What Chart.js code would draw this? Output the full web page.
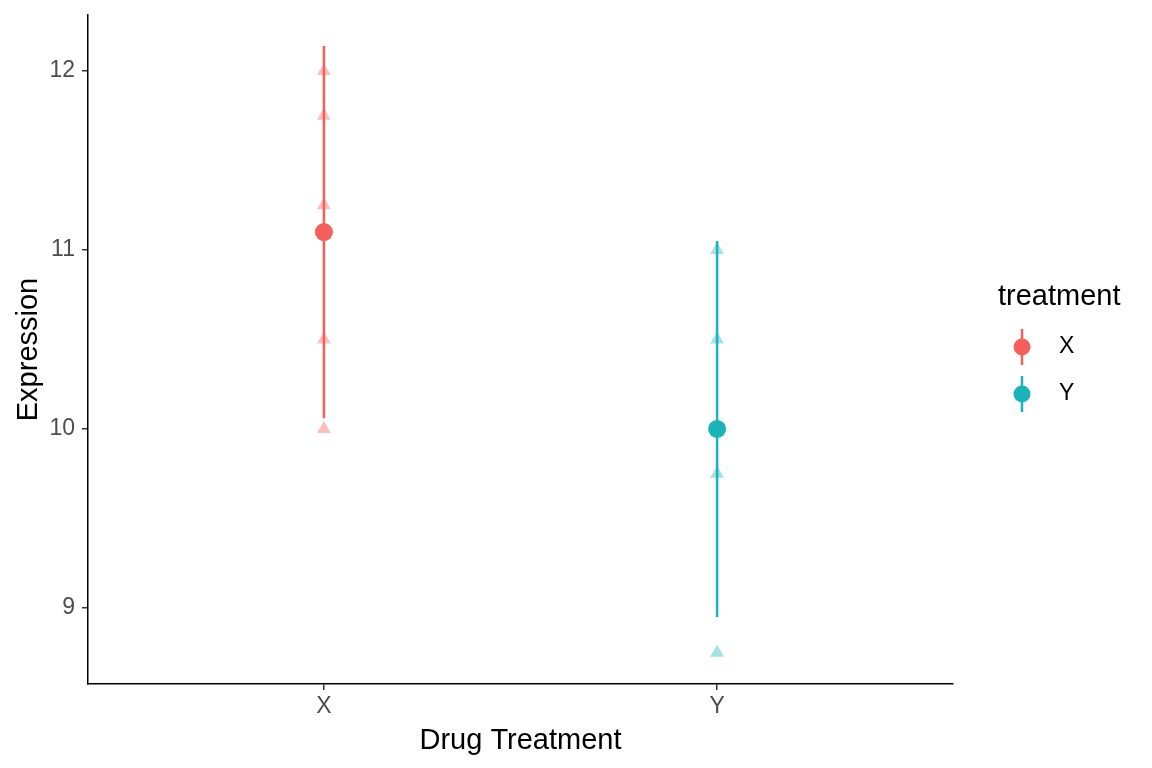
<!DOCTYPE html>
<html>
<head>
    <title>Expression by Drug Treatment</title>
    <script src="https://cdn.jsdelivr.net/npm/chart.js@4.4.0/dist/chart.umd.min.js"></script>
    <style>
        body { margin: 0; background: #ffffff; }
    </style>
</head>
<body>
    <canvas id="expr-chart" width="1152" height="768"></canvas>

    <script>
        // treatment groups and their colours
        var treatments = ['X', 'Y'];
        var colours = ['#F5605C', '#1AB4B8'];
        var fadedColours = ['rgba(245, 96, 92, 0.4)', 'rgba(26, 180, 184, 0.4)'];

        // individual measurements per treatment
        var valuesX = [12.0, 11.75, 11.25, 10.5, 10.0];
        var valuesY = [11.0, 10.5, 10.0, 9.75, 8.75];

        // group means and 95% interval
        var means = [11.1, 10.0];
        var lower = [10.06, 8.95];
        var upper = [12.14, 11.05];

        var yTicks = [9, 10, 11, 12];

        var fontFamily = "'Liberation Sans', Arial, sans-serif";

        function pointsFor(values, idx) {
            return values.map(function (v) { return { x: idx + 1, y: v }; });
        }

        var datasets = [];
        [valuesX, valuesY].forEach(function (vals, i) {
            datasets.push({
                label: treatments[i] + ' obs',
                data: pointsFor(vals, i),
                pointStyle: 'triangle',
                pointRadius: 8,
                pointBorderWidth: 0,
                backgroundColor: fadedColours[i],
                borderColor: fadedColours[i],
                order: 3
            });
            datasets.push({
                label: treatments[i] + ' interval',
                type: 'line',
                data: [{ x: i + 1, y: lower[i] }, { x: i + 1, y: upper[i] }],
                showLine: true,
                borderColor: colours[i],
                borderWidth: 2.5,
                pointRadius: 0,
                order: 2
            });
            datasets.push({
                label: treatments[i],
                data: [{ x: i + 1, y: means[i] }],
                pointStyle: 'circle',
                pointRadius: 9,
                pointBorderWidth: 0,
                backgroundColor: colours[i],
                borderColor: colours[i],
                order: 1
            });
        });

        // legend drawn like ggplot: title + point with vertical line
        var ggLegend = {
            id: 'ggLegend',
            afterDraw: function (chart) {
                var ctx = chart.ctx;
                ctx.save();
                ctx.fillStyle = '#000';
                ctx.font = '29px ' + fontFamily;
                ctx.textBaseline = 'middle';
                ctx.textAlign = 'left';
                ctx.fillText('treatment', 998, 297);
                treatments.forEach(function (t, i) {
                    var cy = 347 + i * 47;
                    ctx.strokeStyle = colours[i];
                    ctx.lineWidth = 2.5;
                    ctx.beginPath();
                    ctx.moveTo(1022, cy - 18);
                    ctx.lineTo(1022, cy + 18);
                    ctx.stroke();
                    ctx.fillStyle = colours[i];
                    ctx.beginPath();
                    ctx.arc(1022, cy, 8.5, 0, Math.PI * 2);
                    ctx.fill();
                    ctx.fillStyle = '#000';
                    ctx.font = '23px ' + fontFamily;
                    ctx.fillText(t, 1059, cy);
                });
                ctx.restore();
            }
        };

        var ctx = document.getElementById('expr-chart').getContext('2d');
        var chart = new Chart(ctx, {
            type: 'scatter',
            data: { datasets: datasets },
            plugins: [ggLegend],
            options: {
                responsive: false,
                animation: false,
                devicePixelRatio: 1,
                layout: { padding: { left: 0, top: 15, right: 199, bottom: 0 } },
                plugins: {
                    legend: { display: false },
                    tooltip: { enabled: false }
                },
                scales: {
                    x: {
                        type: 'linear',
                        min: 0.4,
                        max: 2.6,
                        afterBuildTicks: function (scale) {
                            scale.ticks = treatments.map(function (t, i) { return { value: i + 1 }; });
                        },
                        afterFit: function (scale) {
                            scale.height = 84;
                            scale.paddingLeft = 0;
                            scale.paddingRight = 0;
                        },
                        ticks: {
                            callback: function (v) { return treatments[v - 1]; },
                            color: '#4d4d4d',
                            font: { family: fontFamily, size: 23 },
                            padding: 3,
                            maxRotation: 0
                        },
                        grid: { drawOnChartArea: false, drawTicks: true, tickLength: 6, color: '#333', lineWidth: 1.5 },
                        border: { display: true, color: '#000', width: 1.5 },
                        title: {
                            display: true,
                            text: 'Drug Treatment',
                            color: '#000',
                            font: { family: fontFamily, size: 29 },
                            padding: { top: 10, bottom: 10 }
                        }
                    },
                    y: {
                        type: 'linear',
                        min: 8.575,
                        max: 12.313,
                        afterBuildTicks: function (scale) {
                            scale.ticks = yTicks.map(function (v) { return { value: v }; });
                        },
                        afterFit: function (scale) {
                            scale.width = 88;
                            scale.paddingTop = 0;
                            scale.paddingBottom = 0;
                        },
                        ticks: {
                            color: '#4d4d4d',
                            font: { family: fontFamily, size: 23 },
                            padding: 7
                        },
                        grid: { drawOnChartArea: false, drawTicks: true, tickLength: 6, color: '#333', lineWidth: 1.5 },
                        border: { display: true, color: '#000', width: 1.5 },
                        title: {
                            display: true,
                            text: 'Expression',
                            color: '#000',
                            font: { family: fontFamily, size: 29 },
                            padding: { top: 12, bottom: 12 }
                        }
                    }
                }
            }
        });
    </script>
</body>
</html>
